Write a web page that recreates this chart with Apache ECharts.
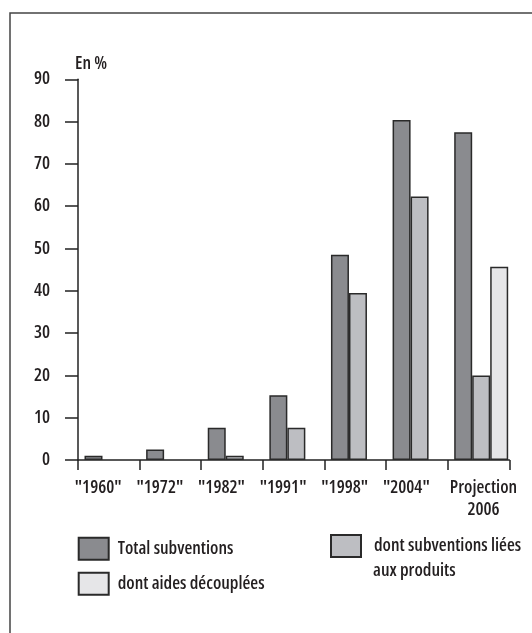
<!DOCTYPE html>
<html><head><meta charset="utf-8">
<script src="https://cdn.jsdelivr.net/npm/echarts@6/dist/echarts.min.js"></script>
<style>html,body{margin:0;padding:0;background:#fff}#c{width:532px;height:633px}</style>
</head><body><div id="c"></div>
<script>
const categories = ['"1960"', '"1972"', '"1982"', '"1991"', '"1998"', '"2004"', 'Projection\n2006'];
const totalSubventions = [1, 2.5, 7.6, 15.3, 48.5, 80.4, 77.5];
const subventionsProduits = [null, null, 1, 7.6, 39.5, 62.3, 20];
const aidesDecouplees = [null, null, null, null, null, null, 45.7];
const yTicks = [0, 90, 10];

const FONT = '"Open Sans", "Roboto Condensed", sans-serif';
const FW = '600 condensed';
const FS = 18;
const TXT = '#231f20';
const chart = echarts.init(document.getElementById('c'), null, {renderer: 'canvas'});
const barStyle = (c) => ({color: c, borderColor: '#2a2a2a', borderWidth: 1.5});
const gridTop = 79.3, gridBottom = 173;
const ts = (extra) => Object.assign({fontFamily: FONT, fontSize: FS, fontWeight: FW, color: TXT}, extra || {});
const richTok = (extra) => ts(Object.assign({lineHeight: 22}, extra));

chart.setOption({
  animation: false,
  backgroundColor: '#fff',
  title: {text: 'En %', left: 70, top: 50, textStyle: ts()},
  graphic: [
    {type: 'rect', shape: {x: 10, y: 13, width: 700, height: 800}, style: {fill: 'none', stroke: '#444', lineWidth: 1.5}, silent: true},
    {type: 'text', left: 373, top: 562, style: {text: 'aux produits', font: 'normal ' + FW + ' ' + FS + 'px ' + FONT, fill: TXT}}
  ],
  grid: [
    {left: 78, right: 22.7, top: gridTop, bottom: gridBottom},
    {left: 80.7, right: 20, top: gridTop, bottom: gridBottom}
  ],
  xAxis: [
    {type: 'category', gridIndex: 0, data: categories, boundaryGap: true,
     axisLine: {lineStyle: {color: '#222', width: 1.5}},
     axisTick: {show: true, length: 10, lineStyle: {color: '#222', width: 1.5}},
     axisLabel: ts({margin: 17, lineHeight: 22, interval: 0,
       formatter: (v, i) => i === categories.length - 1
         ? v.split('\n').map(s => '{p|' + s + '}').join('\n')
         : '{a|' + v + '}',
       rich: {a: richTok({width: 68, align: 'left'}), p: richTok({padding: [0, 0, 0, 10], align: 'center'})}})},
    {type: 'category', gridIndex: 1, data: categories, show: false}
  ],
  yAxis: [
    {type: 'value', gridIndex: 0, min: yTicks[0], max: yTicks[1], interval: yTicks[2],
     axisLine: {show: true, lineStyle: {color: '#222', width: 1.5}},
     axisTick: {show: true, length: 13, lineStyle: {color: '#222', width: 1.5}},
     splitLine: {show: false},
     axisLabel: ts({margin: 28})},
    {type: 'value', gridIndex: 1, min: yTicks[0], max: yTicks[1], show: false}
  ],
  legend: [
    {data: ['Total subventions'], left: 77.7, top: 536.7, padding: 0, itemWidth: 30, itemHeight: 22, icon: 'rect',
     textStyle: ts({padding: [0, 0, 0, 4]})},
    {data: ['dont subventions liées'], left: 330, top: 534, padding: 0, itemWidth: 30, itemHeight: 22, icon: 'rect',
     textStyle: ts({padding: [0, 0, 0, 8]})},
    {data: ['dont aides découplées'], left: 77.7, top: 571.7, padding: 0, itemWidth: 30, itemHeight: 22, icon: 'rect',
     textStyle: ts({padding: [0, 0, 0, 4]})}
  ],
  series: [
    {name: 'Total subventions', type: 'bar', xAxisIndex: 1, yAxisIndex: 1, data: totalSubventions,
     barWidth: 18, barGap: '0%', itemStyle: barStyle('#8a8b8f')},
    {name: 'dont subventions liées', type: 'bar', xAxisIndex: 1, yAxisIndex: 1, data: subventionsProduits,
     barWidth: 18, barGap: '0%', itemStyle: barStyle('#bdbec2')},
    {name: 'dont aides découplées', type: 'bar', xAxisIndex: 1, yAxisIndex: 1, data: aidesDecouplees,
     barWidth: 18, barGap: '0%', itemStyle: barStyle('#e6e6e8')}
  ]
});
</script></body></html>
